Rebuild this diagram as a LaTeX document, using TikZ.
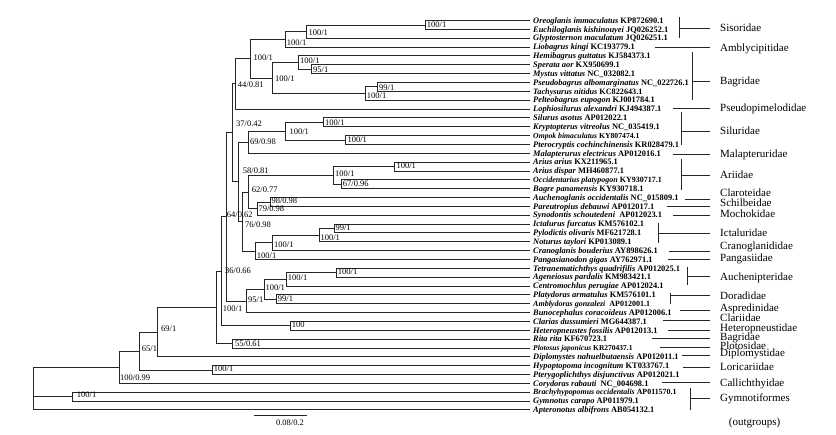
\documentclass[tikz,border=0pt]{standalone}
\usepackage{fontspec}
\setmainfont{Liberation Serif}
\tikzset{
  br/.style={line width=0.85pt, draw=black!85},
  fl/.style={br, shorten >=10pt},
  lf/.style={anchor=west, inner sep=0pt, text height=5.6pt, text depth=0pt},
  bs/.style={anchor=west, inner sep=0pt, text height=5.8pt, text depth=0pt, font=\fontsize{8.5}{9}\selectfont},
  fam/.style={anchor=west, inner sep=0pt, text height=7pt, text depth=0pt, font=\fontsize{11}{12}\selectfont},
}
\begin{document}
\begin{tikzpicture}[x=1pt,y=-1pt]
\useasboundingbox (0,0) rectangle (836,435);
% ---------- leaves ----------
\foreach \i/\sz/\sp/\ac in {
0/8.4/Oreoglanis immaculatus/KP872690.1,
1/8.4/Euchiloglanis kishinouyei/JQ026252.1,
2/8.4/Glyptosternon maculatum/JQ026251.1,
3/8.4/Liobagrus kingi/KC193779.1,
4/8.4/Hemibagrus guttatus/KJ584373.1,
5/8.4/Sperata aor/KX950699.1,
6/8.4/Mystus vittatus/NC\_032082.1,
7/8.4/Pseudobagrus albomarginatus/NC\_022726.1,
8/8.2/Tachysurus nitidus/KC822643.1,
9/8.4/Pelteobagrus eupogon/KJ001784.1,
10/8.4/Lophiosilurus alexandri/KJ494387.1,
11/8.4/Silurus asotus/AP012022.1,
12/8.4/Kryptopterus vitreolus/NC\_035419.1,
13/7.7/Ompok bimaculatus/KY807474.1,
14/8.4/Pterocryptis cochinchinensis/KR028479.1,
15/8.4/Malapterurus electricus/AP012016.1,
16/8.4/Arius arius/KX211965.1,
17/8.4/Arius dispar/MH460877.1,
18/8.0/Occidentarius platypogon/KY930717.1,
19/8.4/Bagre panamensis/KY930718.1,
20/8.4/Auchenoglanis occidentalis/NC\_015809.1,
21/8.4/Pareutropius debauwi/AP012017.1,
22/8.4/Synodontis schoutedeni/\ AP012023.1,
23/8.4/Ictalurus furcatus/KM576102.1,
24/8.4/Pylodictis olivaris/MF621728.1,
25/8.4/Noturus taylori/KP013089.1,
26/8.4/Cranoglanis bouderius/AY898626.1,
27/8.4/Pangasianodon gigas/AY762971.1,
28/8.4/Tetranematichthys quadrifilis/AP012025.1,
29/8.4/Ageneiosus pardalis/KM983421.1,
30/8.4/Centromochlus perugiae/AP012024.1,
31/8.4/Platydoras armatulus/KM576101.1,
32/8.0/Amblydoras gonzalezi/\ AP012001.1,
33/8.4/Bunocephalus coracoideus/AP012006.1,
34/8.4/Clarias dussumieri/MG644387.1,
35/8.4/Heteropneustes fossilis/AP012013.1,
36/8.4/Rita rita/KF670723.1,
37/7.5/Plotosus japonicus/KR270437.1,
38/8.4/Diplomystes nahuelbutaensis/AP012011.1,
39/8.4/Hypoptopoma incognitum/KT033767.1,
40/8.4/Pterygoplichthys disjunctivus/AP012021.1,
41/8.4/Corydoras rabauti/\ NC\_004698.1,
42/7.9/Brachyhypopomus occidentalis/AP011570.1,
43/8.4/Gymnotus carapo/AP011979.1,
44/8.4/Apteronotus albifrons/AB054132.1}{
  \coordinate (L\i) at (530,{20.5+8.85*\i});
  \node[lf, font=\fontsize{\sz}{9}\selectfont\bfseries] (T\i) at (533,{20.5+8.85*\i}) {\textit{\sp} \ac};
}
% ---------- internal nodes ----------
\coordinate (Noreo) at (425.7,24.93);
\coordinate (Nsis) at (306.7,31.56);
\coordinate (Nsislio) at (285,39.31);
\coordinate (N95) at (311,69.18);
\coordinate (Nbh) at (298.3,62.54);
\coordinate (N99) at (377.7,86.88);
\coordinate (Npp) at (365.7,93.51);
\coordinate (Nbag) at (272.3,78.03);
\coordinate (NA) at (250,58.67);
\coordinate (N44) at (235.7,83.83);
\coordinate (Nsa) at (323.3,122.28);
\coordinate (Nop) at (345.7,139.98);
\coordinate (Nsil) at (285.7,131.13);
\coordinate (N69) at (248.3,142.19);
\coordinate (Narius) at (394.3,166.53);
\coordinate (N67) at (341.7,184.23);
\coordinate (Nari) at (333.3,175.38);
\coordinate (N98) at (270.3,201.93);
\coordinate (N79) at (257.3,208.56);
\coordinate (N62) at (248.3,191.97);
\coordinate (Nic99) at (334.3,228.48);
\coordinate (Nic100) at (319.3,235.11);
\coordinate (Nicc) at (272.7,242.86);
\coordinate (Npan) at (255,251.15);
\coordinate (N76) at (242.7,221.56);
\coordinate (N58) at (238.3,181.88);
\coordinate (N37) at (232.3,132.85);
\coordinate (Nau1) at (336.7,272.73);
\coordinate (Nau) at (286,279.36);
\coordinate (Ndor) at (276.7,299.28);
\coordinate (Nad) at (264.3,289.32);
\coordinate (N95b) at (246.7,300.93);
\coordinate (N64) at (226.5,216.89);
\coordinate (Ncla) at (290.7,325.83);
\coordinate (N36) at (221.7,271.36);
\coordinate (N55) at (232.7,343.53);
\coordinate (Nbig) at (216.7,307.44);
\coordinate (N69b) at (157.7,332.12);
\coordinate (Nlor) at (212.7,370.08);
\coordinate (N65) at (139.3,351.1);
\coordinate (N100b) at (119,367.23);
\coordinate (Ngym) at (72.3,396.63);
\coordinate (Nroot) at (33.3,388.56);
% ---------- branches ----------
\draw[br] (Noreo) |- (L0) (Noreo) |- (L1);
\draw[br] (Nsis) |- (Noreo) (Nsis) |- (L2);
\draw[br] (Nsislio) |- (Nsis) (Nsislio) |- (L3);
\draw[br] (N95) |- (L5) (N95) |- (L6);
\draw[br] (Nbh) |- (L4) (Nbh) |- (N95);
\draw[br] (N99) |- (L7) (N99) |- (L8);
\draw[br] (Npp) |- (N99) (Npp) |- (L9);
\draw[br] (Nbag) |- (Nbh) (Nbag) |- (Npp);
\draw[br] (NA) |- (Nsislio) (NA) |- (Nbag);
\draw[br] (N44) |- (NA) (N44) |- (L10);
\draw[br] (Nsa) |- (L11) (Nsa) |- (L12);
\draw[br] (Nop) |- (L13) (Nop) |- (L14);
\draw[br] (Nsil) |- (Nsa) (Nsil) |- (Nop);
\draw[br] (N69) |- (Nsil) (N69) |- (L15);
\draw[br] (Narius) |- (L16) (Narius) |- (L17);
\draw[br] (N67) |- (L18) (N67) |- (L19);
\draw[br] (Nari) |- (Narius) (Nari) |- (N67);
\draw[br] (N98) |- (L20) (N98) |- (L21);
\draw[br] (N79) |- (N98) (N79) |- (L22);
\draw[br] (N62) |- (Nari) (N62) |- (N79);
\draw[br] (Nic99) |- (L23) (Nic99) |- (L24);
\draw[br] (Nic100) |- (Nic99) (Nic100) |- (L25);
\draw[br] (Nicc) |- (Nic100) (Nicc) |- (L26);
\draw[br] (Npan) |- (Nicc) (Npan) |- (L27);
\draw[br] (N76) |- (N62) (N76) |- (Npan);
\draw[br] (N58) |- (N69) (N58) |- (N76);
\draw[br] (N37) |- (N44) (N37) |- (N58);
\draw[br] (Nau1) |- (L28) (Nau1) |- (L29);
\draw[br] (Nau) |- (Nau1) (Nau) |- (L30);
\draw[br] (Ndor) |- (L31) (Ndor) |- (L32);
\draw[br] (Nad) |- (Nau) (Nad) |- (Ndor);
\draw[br] (N95b) |- (Nad) (N95b) |- (L33);
\draw[br] (N64) |- (N37) (N64) |- (N95b);
\draw[br] (Ncla) |- (L34) (Ncla) |- (L35);
\draw[br] (N36) |- (N64) (N36) |- (Ncla);
\draw[br] (N55) |- (L36) (N55) |- (L37);
\draw[br] (Nbig) |- (N36) (Nbig) |- (N55);
\draw[br] (N69b) |- (Nbig) (N69b) |- (L38);
\draw[br] (Nlor) |- (L39) (Nlor) |- (L40);
\draw[br] (N65) |- (N69b) (N65) |- (Nlor);
\draw[br] (N100b) |- (N65) (N100b) |- (L41);
\draw[br] (Ngym) |- (L42) (Ngym) |- (L43);
\draw[br] (Nroot) |- (N100b) (Nroot) |- (Ngym) (Nroot) |- (L44);
% ---------- support values ----------
\node[bs] (bOreo) at (426.7,25) {100/1};
\node[bs] (bSis) at (308.3,32.3) {100/1};
\node[bs] (bSisLio) at (286.7,42.7) {100/1};
\node[bs] (bA) at (253.3,57.3) {100/1};
\node[bs] (bBag) at (275,78.7) {100/1};
\node[bs] (bBh) at (300,60.7) {100/1};
\node[bs] (b95) at (313,69.3) {95/1};
\node[bs] (b99) at (379,87.3) {99/1};
\node[bs] (bPp) at (366.7,96) {100/1};
\node[bs] (b44) at (237.7,85) {44/0.81};
\node[bs] (b37) at (236,124) {37/0.42};
\node[bs] (bSa) at (325,122.7) {100/1};
\node[bs] (bOp) at (347.3,139.3) {100/1};
\node[bs] (bSil) at (289.3,131.7) {100/1};
\node[bs] (b69) at (250,141.7) {69/0.98};
\node[bs] (b58) at (242.7,171) {58/0.81};
\node[bs] (bArius) at (396.3,166) {100/1};
\node[bs] (bAri) at (335,174) {100/1};
\node[bs] (b67) at (342.7,184) {67/0.96};
\node[bs] (b62) at (251.7,189.3) {62/0.77};
\node[bs] (b98) at (271.3,201) {98/0.98};
\node[bs] (b79) at (258.3,208.3) {79/0.98};
\node[bs] (b64) at (226.7,215) {64/0.62};
\node[bs] (b76) at (245,225) {76/0.98};
\node[bs] (bIc99) at (335.3,227.3) {99/1};
\node[bs] (bIc100) at (320.3,237.3) {100/1};
\node[bs] (bIcc) at (274,244.3) {100/1};
\node[bs] (bPan) at (256.7,256) {100/1};
\node[bs] (b36) at (225,271) {36/0.66};
\node[bs] (bAu1) at (337.7,271.7) {100/1};
\node[bs] (bAu) at (287.7,277.3) {100/1};
\node[bs] (bAd) at (265.3,287.3) {100/1};
\node[bs] (bDor) at (277.7,299) {99/1};
\node[bs] (b95b) at (248,300) {95/1};
\node[bs] (bBig) at (222.7,308.3) {100/1};
\node[bs] (bCla) at (291.7,325) {100};
\node[bs] (b55) at (235,343.3) {55/0.61};
\node[bs] (b69b) at (161,329) {69/1};
\node[bs] (b65) at (141.7,349) {65/1};
\node[bs] (bLor) at (213.7,368.3) {100/1};
\node[bs] (b100b) at (120,377.3) {100/0.99};
\node[bs] (bGym) at (76.7,395) {100/1};
% ---------- families ----------
\node[fam] (F1) at (720,28.3) {Sisoridae};
\coordinate (B1a) at (679,17.3); \coordinate (B1b) at (679,38.3); \coordinate (B1m) at (679,28.3);
\draw[br] (B1a) -- (B1b); \draw[fl] (B1m) -- (B1m -| F1.west);
\node[fam] (F2) at (720,47.7) {Amblycipitidae};
\coordinate (A2) at (655,47.7); \draw[fl] (A2) -- (A2 -| F2.west);
\node[fam] (F3) at (720,81.3) {Bagridae};
\coordinate (B3a) at (692.3,51.7); \coordinate (B3b) at (692.3,100); \coordinate (B3m) at (692.3,81.3);
\draw[br] (B3a) -- (B3b); \draw[fl] (B3m) -- (B3m -| F3.west);
\node[fam] (F4) at (720,108.5) {Pseudopimelodidae};
\coordinate (A4) at (672.7,108.7); \draw[fl] (A4) -- (A4 -| F4.west);
\node[fam] (F5) at (720,131) {Siluridae};
\coordinate (B5a) at (681.7,112.3); \coordinate (B5b) at (681.7,145); \coordinate (B5m) at (681.7,131);
\draw[br] (B5a) -- (B5b); \draw[fl] (B5m) -- (B5m -| F5.west);
\node[fam] (F6) at (720,154) {Malapteruridae};
\coordinate (A6) at (672.7,154); \draw[fl] (A6) -- (A6 -| F6.west);
\node[fam] (F7) at (720,175) {Ariidae};
\coordinate (B7a) at (681.7,159.3); \coordinate (B7b) at (681.7,190); \coordinate (B7m) at (681.7,175);
\draw[br] (B7a) -- (B7b); \draw[fl] (B7m) -- (B7m -| F7.west);
\node[fam] (F8) at (720,193.5) {Claroteidae};
\coordinate (A8) at (685,199.5); \draw[fl] (A8) -- (A8 -| F8.west);
\node[fam] (F9) at (720,203.3) {Schilbeidae};
\coordinate (A9) at (666.7,206.7); \draw[fl] (A9) -- (A9 -| F9.west);
\node[fam] (F10) at (720,214) {Mochokidae};
\coordinate (A10) at (673.3,215); \draw[fl] (A10) -- (A10 -| F10.west);
\node[fam] (F11) at (720,233.3) {Ictaluridae};
\coordinate (B11a) at (658.3,223.3); \coordinate (B11b) at (658.3,243.3); \coordinate (B11m) at (658.3,233.3);
\draw[br] (B11a) -- (B11b); \draw[fl] (B11m) -- (B11m -| F11.west);
\node[fam] (F12) at (720,246) {Cranoglanididae};
\coordinate (A12) at (669.3,251); \draw[fl] (A12) -- (A12 -| F12.west);
\node[fam] (F13) at (720,258.5) {Pangasiidae};
\coordinate (A13) at (668.3,259); \draw[fl] (A13) -- (A13 -| F13.west);
\node[fam] (F14) at (720,277) {Auchenipteridae};
\coordinate (B14a) at (687.7,266.7); \coordinate (B14b) at (687.7,285); \coordinate (B14m) at (687.7,276.5);
\draw[br] (B14a) -- (B14b); \draw[fl] (B14m) -- (B14m -| F14.west);
\node[fam] (F15) at (720,295.7) {Doradidae};
\coordinate (B15a) at (670.7,293.3); \coordinate (B15b) at (670.7,304); \coordinate (B15m) at (670.7,295.7);
\draw[br] (B15a) -- (B15b); \draw[fl] (B15m) -- (B15m -| F15.west);
\node[fam] (F16) at (720,308.3) {Aspredinidae};
\coordinate (A16) at (680,310.7); \draw[fl] (A16) -- (A16 -| F16.west);
\node[fam] (F17) at (720,318.3) {Clariidae};
\coordinate (A17) at (663.3,320.7); \draw[fl] (A17) -- (A17 -| F17.west);
\node[fam] (F18) at (720,327.7) {Heteropneustidae};
\coordinate (A18) at (668.3,330); \draw[fl] (A18) -- (A18 -| F18.west);
\node[fam] (F19) at (720,336.7) {Bagridae};
\coordinate (A19) at (651.7,338.3); \draw[fl] (A19) -- (A19 -| F19.west);
\node[fam] (F20) at (720,345.7) {Plotosidae};
\coordinate (A20) at (660,347.7); \draw[fl] (A20) -- (A20 -| F20.west);
\node[fam] (F21) at (720,353.5) {Diplomystidae};
\coordinate (A21) at (681.7,355); \draw[fl] (A21) -- (A21 -| F21.west);
\node[fam] (F22) at (720,367.3) {Loricariidae};
\coordinate (A22) at (683.3,367.3); \draw[fl] (A22) -- (A22 -| F22.west);
\node[fam] (F23) at (720,382.7) {Callichthyidae};
\coordinate (A23) at (662.3,382.7); \draw[fl] (A23) -- (A23 -| F23.west);
\node[fam] (F24) at (720,398.3) {Gymnotiformes};
\coordinate (B24a) at (690.7,388.3); \coordinate (B24b) at (690.7,410); \coordinate (B24m) at (690.7,398.3);
\draw[br] (B24a) -- (B24b); \draw[fl] (B24m) -- (B24m -| F24.west);
\node[fam] (F25) at (728.7,421.7) {(outgroups)};
% ---------- scale bar ----------
\coordinate (S1) at (254,415.7); \coordinate (S2) at (306.7,415.7);
\draw[br] (S1) -- (S2);
\node[bs, anchor=center] (Sl) at (290,422.8) {0.08/0.2};
\end{tikzpicture}
\end{document}
